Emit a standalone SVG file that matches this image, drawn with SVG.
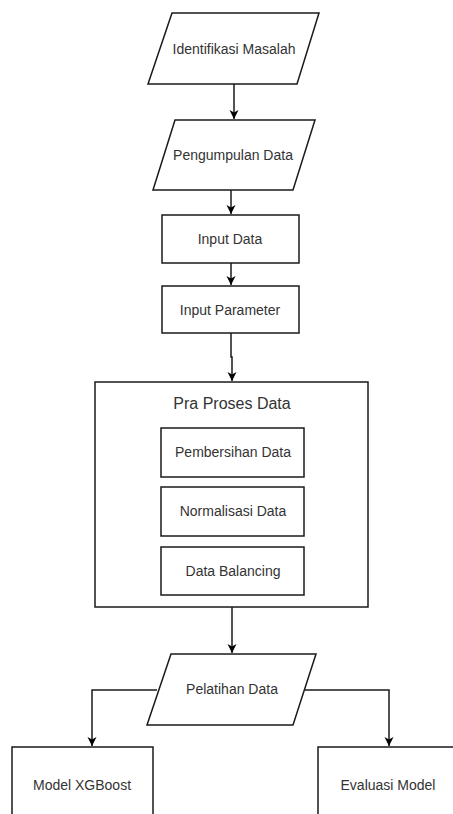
<svg xmlns="http://www.w3.org/2000/svg" width="453" height="814" viewBox="0 0 453 814">
<style>
.s{fill:#fff;stroke:#1a1a1a;stroke-width:1.5}
.t{font-family:"Liberation Sans",Arial,sans-serif;font-size:14px;fill:#333;text-anchor:middle;dominant-baseline:central}
.c{fill:none;stroke:#1a1a1a;stroke-width:1.5}
</style>
<defs>
<marker id="a" markerWidth="10" markerHeight="10" refX="9" refY="5" orient="auto" markerUnits="userSpaceOnUse">
<path d="M0,0.5 L9,5 L0,9.5 L2.5,5 Z" fill="#000"/>
</marker>
</defs>
<rect width="453" height="814" fill="#fff"/>
<g id="n1"><polygon class="s" points="172,13 319,13 297,84 148,84"/><text class="t" x="234" y="49">Identifikasi Masalah</text></g>
<g id="n2"><polygon class="s" points="175,120 315,120 293,190 153,190"/><text class="t" x="233" y="155">Pengumpulan Data</text></g>
<g id="n3"><rect class="s" x="162" y="215" width="137" height="48"/><text class="t" x="230" y="239">Input Data</text></g>
<g id="n4"><rect class="s" x="162" y="286" width="137" height="47"/><text class="t" x="230" y="310">Input Parameter</text></g>
<g id="n5"><rect class="s" x="95" y="382" width="273" height="225"/><text class="t" x="232" y="403" style="font-size:16px">Pra Proses Data</text></g>
<g id="n6"><rect class="s" x="161" y="428" width="143" height="49"/><text class="t" x="233" y="452">Pembersihan Data</text></g>
<g id="n7"><rect class="s" x="161" y="487" width="143" height="49"/><text class="t" x="233" y="511">Normalisasi Data</text></g>
<g id="n8"><rect class="s" x="161" y="547" width="143" height="48"/><text class="t" x="233" y="571">Data Balancing</text></g>
<g id="n9"><polygon class="s" points="171,654 316,654 293,725 147,725"/><text class="t" x="232" y="689">Pelatihan Data</text></g>
<g id="n10"><rect class="s" x="12" y="747" width="141" height="80"/><text class="t" x="82" y="785">Model XGBoost</text></g>
<g id="n11"><rect class="s" x="318" y="747" width="150" height="80"/><text class="t" x="388" y="785">Evaluasi Model</text></g>
<g id="connectors">
<path class="c" d="M234,84 V119" marker-end="url(#a)"/>
<path class="c" d="M231,190 V214" marker-end="url(#a)"/>
<path class="c" d="M231,263 V285" marker-end="url(#a)"/>
<path class="c" d="M231,333 V357 H232 V381" marker-end="url(#a)"/>
<path class="c" d="M232,607 V653" marker-end="url(#a)"/>
<path class="c" d="M157,690 H92 V746" marker-end="url(#a)"/>
<path class="c" d="M305,690 H389 V746" marker-end="url(#a)"/>
</g>
</svg>
